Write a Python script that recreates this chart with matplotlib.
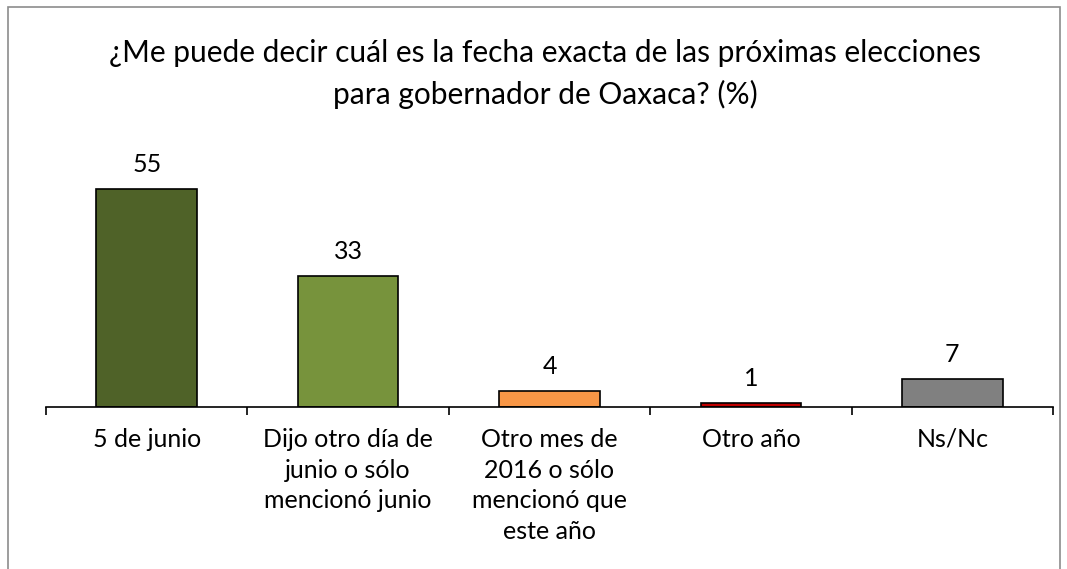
import matplotlib.pyplot as plt
from matplotlib.patches import Rectangle

plt.rcParams['font.family'] = ['Lato', 'DejaVu Sans']

categorias = ['5 de junio', 'Dijo otro día de\njunio o sólo\nmencionó junio',
              'Otro mes de\n2016 o sólo\nmencionó que\neste año', 'Otro año', 'Ns/Nc']
valores = [55, 33, 4, 1, 7]
colores = ['#4F6228', '#77933C', '#F79646', '#C00000', '#808080']
titulo = '¿Me puede decir cuál es la fecha exacta de las próximas elecciones\npara gobernador de Oaxaca? (%)'

fig = plt.figure(figsize=(10.67, 5.69), dpi=100)
ax = fig.add_axes([46/1067, 162/569, 1007/1067, 237.6/569])

x = range(len(valores))
ax.bar(x, valores, width=0.5, color=colores, edgecolor='black', linewidth=1.2)
for i, v in zip(x, valores):
    ax.text(i, v + 3.3, str(v), ha='center', va='bottom', fontsize=18)

ax.set_xlim(-0.5, len(valores) - 0.5)
ax.set_ylim(0, 60)
ax.set_yticks([])
for s in ['top', 'right', 'left']:
    ax.spines[s].set_visible(False)
ax.spines['bottom'].set_linewidth(1.2)

ax.set_xticks([i - 0.5 for i in range(len(valores) + 1)])
ax.set_xticklabels([])
ax.tick_params(axis='x', length=6, width=1.2, direction='out')
for i, c in enumerate(categorias):
    ax.text(i, -5.3, c, ha='center', va='top', fontsize=18, linespacing=1.4)

fig.text(0.511, 0.87, titulo, ha='center', va='center', fontsize=21.5, linespacing=1.55)

fig.patches.append(Rectangle((8/1067, -0.01), 1052/1067, 1 - 7/569 + 0.01,
                             transform=fig.transFigure, fill=False,
                             edgecolor='#8C8C8C', linewidth=1.2))

fig.savefig('out.png', dpi=100)
